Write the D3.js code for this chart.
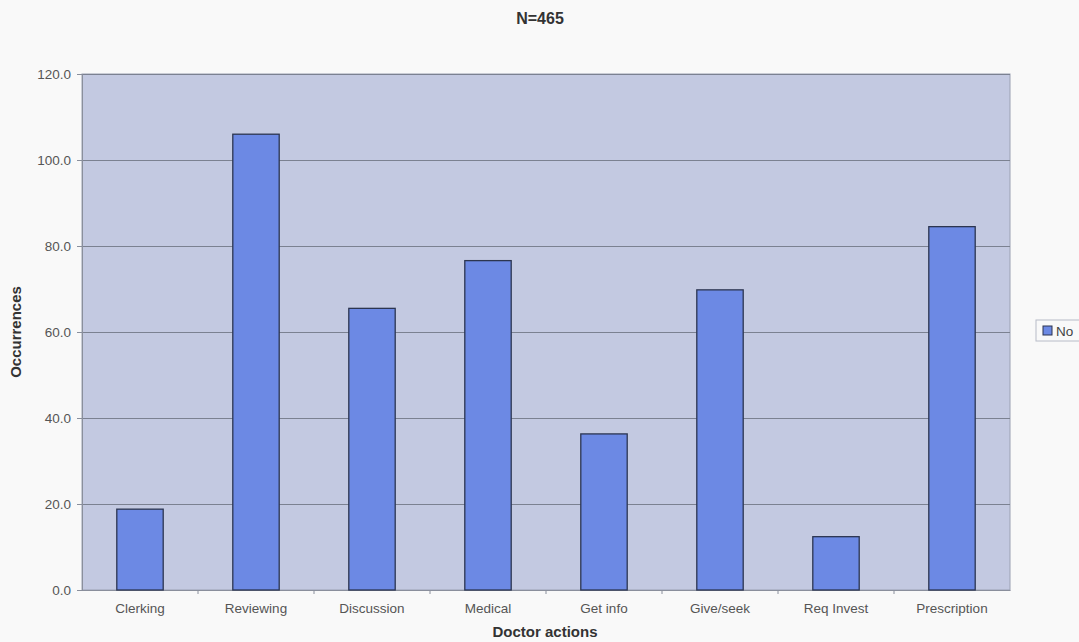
<!DOCTYPE html>
<html>
<head>
<meta charset="utf-8">
<script src="https://cdn.jsdelivr.net/npm/d3@7"></script>
<style>
  html, body { margin: 0; padding: 0; background: #f9f9f9; }
  svg { display: block; font-family: "Liberation Sans", Arial, sans-serif; }
</style>
</head>
<body>
<div id="chart"></div>
<script>
const categories = ["Clerking", "Reviewing", "Discussion", "Medical", "Get info", "Give/seek", "Req Invest", "Prescription"];
const noValues = [18.8, 106.0, 65.5, 76.6, 36.3, 69.8, 12.4, 84.5];
const yTicks = [0, 20, 40, 60, 80, 100, 120];
const seriesName = "No";

const width = 1079, height = 642;
const margin = { top: 74, right: 69, bottom: 52, left: 82 };
const innerW = width - margin.left - margin.right;
const innerH = height - margin.top - margin.bottom;

const svg = d3.select("#chart").append("svg")
  .attr("width", width)
  .attr("height", height);

// Title
svg.append("text")
  .attr("x", 540)
  .attr("y", 24)
  .attr("text-anchor", "middle")
  .attr("fill", "#333")
  .style("font-size", "16px")
  .style("font-weight", "bold")
  .text("N=465");

const g = svg.append("g").attr("transform", `translate(${margin.left},${margin.top})`);

const x = d3.scaleBand().domain(categories).range([0, innerW]).paddingInner(0.6).paddingOuter(0.3);
const y = d3.scaleLinear().domain([0, 120]).range([innerH, 0]);

// Plot area background
g.append("rect")
  .attr("width", innerW)
  .attr("height", innerH)
  .attr("fill", "#c3c9e1")
  .attr("stroke", "#9aa0b2");

// Gridlines
g.append("g")
  .call(d3.axisLeft(y).tickValues(yTicks).tickSize(-innerW).tickFormat(""))
  .call((s) => s.select(".domain").remove())
  .call((s) => s.selectAll(".tick line").attr("stroke", "#7b8191").attr("stroke-width", 1));

// Y axis labels
g.append("g")
  .call(d3.axisLeft(y).tickValues(yTicks).tickSize(5).tickFormat(d3.format(".1f")))
  .call((s) => s.select(".domain").attr("stroke", "#8a8f9c"))
  .call((s) => s.selectAll(".tick line").attr("stroke", "#8a8f9c"))
  .selectAll("text")
  .attr("fill", "#555")
  .attr("x", -11)
  .style("font-size", "13.5px");

// X axis
g.append("g")
  .attr("transform", `translate(0,${innerH})`)
  .call(d3.axisBottom(x).tickSize(0).tickPadding(13))
  .call((s) => s.select(".domain").attr("stroke", "#8a8f9c"))
  .selectAll("text")
  .attr("fill", "#555")
  .style("font-size", "13.5px");

// category separators (tick marks between categories)
g.append("g")
  .selectAll("line")
  .data(categories.slice(1))
  .join("line")
  .attr("x1", (d) => x(d) - x.step() * x.paddingInner() / 2)
  .attr("x2", (d) => x(d) - x.step() * x.paddingInner() / 2)
  .attr("y1", innerH)
  .attr("y2", innerH + 4)
  .attr("stroke", "#8a8f9c");

// Bars
g.selectAll(".bar")
  .data(noValues)
  .join("rect")
  .attr("class", "bar")
  .attr("x", (d, i) => x(categories[i]))
  .attr("y", (d) => y(d))
  .attr("width", x.bandwidth())
  .attr("height", (d) => y(0) - y(d))
  .attr("fill", "#6c89e4")
  .attr("stroke", "#2c3550")
  .attr("stroke-width", 1.3);

// Axis titles
svg.append("text")
  .attr("transform", `translate(21,${margin.top + innerH / 2}) rotate(-90)`)
  .attr("text-anchor", "middle")
  .attr("fill", "#333")
  .style("font-size", "15px")
  .style("font-weight", "bold")
  .text("Occurrences");

svg.append("text")
  .attr("x", 545)
  .attr("y", 637)
  .attr("text-anchor", "middle")
  .attr("fill", "#333")
  .style("font-size", "15px")
  .style("font-weight", "bold")
  .text("Doctor actions");

// Legend
const legend = svg.append("g").attr("transform", "translate(1036,320)");
legend.append("rect")
  .attr("width", 50)
  .attr("height", 21)
  .attr("fill", "#f9f9f9")
  .attr("stroke", "#b8bcc8");
legend.append("rect")
  .attr("x", 7)
  .attr("y", 6)
  .attr("width", 9)
  .attr("height", 9)
  .attr("fill", "#6c89e4")
  .attr("stroke", "#2c3550");
legend.append("text")
  .attr("x", 20)
  .attr("y", 11)
  .attr("dy", "0.35em")
  .attr("fill", "#444")
  .style("font-size", "13.5px")
  .text(seriesName);
</script>
</body>
</html>
